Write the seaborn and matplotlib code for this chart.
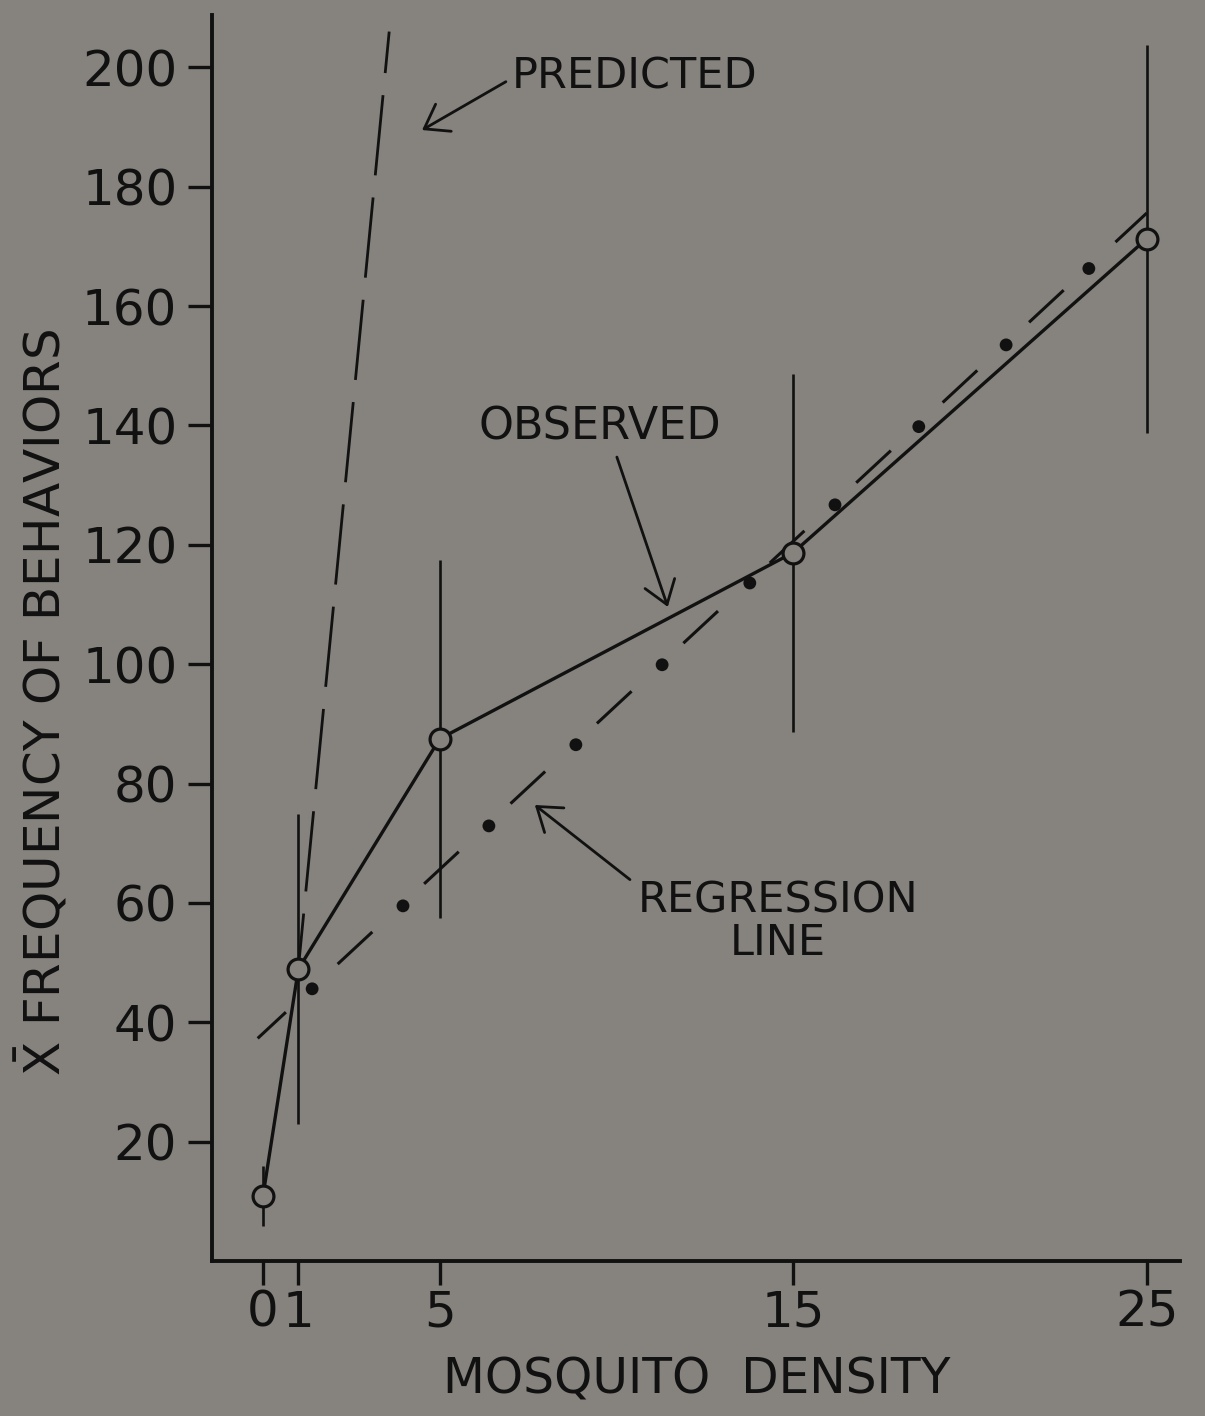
import matplotlib
matplotlib.use("Agg")
import matplotlib.pyplot as plt
import seaborn as sns
import numpy as np
import pandas as pd

# values
density = [0, 1, 5, 15, 25]
observed_mean = [10.9, 48.9, 87.5, 118.7, 171.3]
observed_err = [5.0, 26.0, 30.0, 30.0, 32.5]

regression_x = [-0.15, 25.0]
regression_y = [37.3, 175.6]
regression_dot_x = [1.39, 3.96, 6.39, 8.85, 11.29, 13.77, 16.18, 18.55, 21.02, 23.36]
regression_dot_y = [45.6, 59.5, 72.9, 86.5, 99.9, 113.6, 126.7, 139.8, 153.5, 166.3]

predicted_x = [3.57, 1.0]
predicted_y = [206.0, 49.0]

x_ticks = [0, 1, 5, 15, 25]
y_ticks = [20, 40, 60, 80, 100, 120, 140, 160, 180, 200]

BG = "#86827d"
INK = "#111111"

sns.set_style("ticks")
plt.rcParams["font.family"] = ["DejaVu Sans"]
plt.rcParams["mathtext.fontset"] = "dejavusans"
plt.rcParams["lines.scale_dashes"] = False

fig = plt.figure(figsize=(12.05, 14.16), dpi=100, facecolor=BG)
ax = fig.add_axes([0.176, 0.1095, 0.803, 0.88])
ax.set_facecolor(BG)

obs = pd.DataFrame({"density": density, "mean": observed_mean, "err": observed_err})

# error bars first so the open circles sit on top
ax.vlines(obs["density"], obs["mean"] - obs["err"], obs["mean"] + obs["err"],
          color=INK, lw=1.9, zorder=2)

# predicted line (long dashes)
ax.plot(predicted_x, predicted_y, color=INK, lw=2.0,
        linestyle=(28, (58, 16)), zorder=2)

# regression line: dashes with dots between
ax.plot(regression_x, regression_y, color=INK, lw=2.2,
        linestyle=(6.3, (34, 50.9)), zorder=2)
sns.scatterplot(x=regression_dot_x, y=regression_dot_y, ax=ax, color=INK,
                s=85, edgecolor="none", zorder=3)

# observed means
sns.lineplot(data=obs, x="density", y="mean", ax=ax, color=INK, lw=2.4,
             marker="o", markersize=15, markerfacecolor=BG,
             markeredgecolor=INK, markeredgewidth=2.3, zorder=4)

ax.set_xlim(-1.44, 25.93)
ax.set_ylim(0, 208.8)
ax.set_xticks(x_ticks)
ax.set_yticks(y_ticks)
ax.set_xticklabels([str(v) for v in x_ticks])
ax.set_yticklabels([str(v) for v in y_ticks])
ax.tick_params(axis="both", colors=INK, labelsize=36, width=2.4, length=17)
ax.tick_params(axis="y", pad=8)
ax.tick_params(axis="x", pad=3)
ax.set_xlabel("")
ax.set_ylabel("")

sns.despine(ax=ax)
for side in ("left", "bottom"):
    ax.spines[side].set_linewidth(2.8)
    ax.spines[side].set_color(INK)

arrow = dict(arrowstyle="->,head_length=0.64,head_width=0.45", color=INK,
             lw=2.0, mutation_scale=25, shrinkA=0, shrinkB=0)

ax.text(7.04, 198.4, "PREDICTED", fontsize=31, color=INK, ha="left", va="center")
ax.annotate("", xy=(4.5, 189.5), xytext=(6.87, 197.6), arrowprops=arrow)

ax.text(9.53, 139.8, "OBSERVED", fontsize=32, color=INK, ha="center", va="center")
ax.annotate("", xy=(11.45, 109.6), xytext=(10.01, 134.7), arrowprops=arrow)

ax.text(14.56, 56.8, "REGRESSION\nLINE", fontsize=31, color=INK,
        ha="center", va="center", linespacing=1.0)
ax.annotate("", xy=(7.69, 76.4), xytext=(10.38, 63.9), arrowprops=arrow)

fig.text(42 / 1205, 1 - 702 / 1416, r"$\bar{\mathrm{X}}$ FREQUENCY OF BEHAVIORS",
         rotation=90, fontsize=36, color=INK, ha="center", va="center")
fig.text(697 / 1205, 1 - 1380 / 1416, "MOSQUITO  DENSITY", fontsize=35,
         color=INK, ha="center", va="center")

fig.savefig("out.png", dpi=100, facecolor=BG)
